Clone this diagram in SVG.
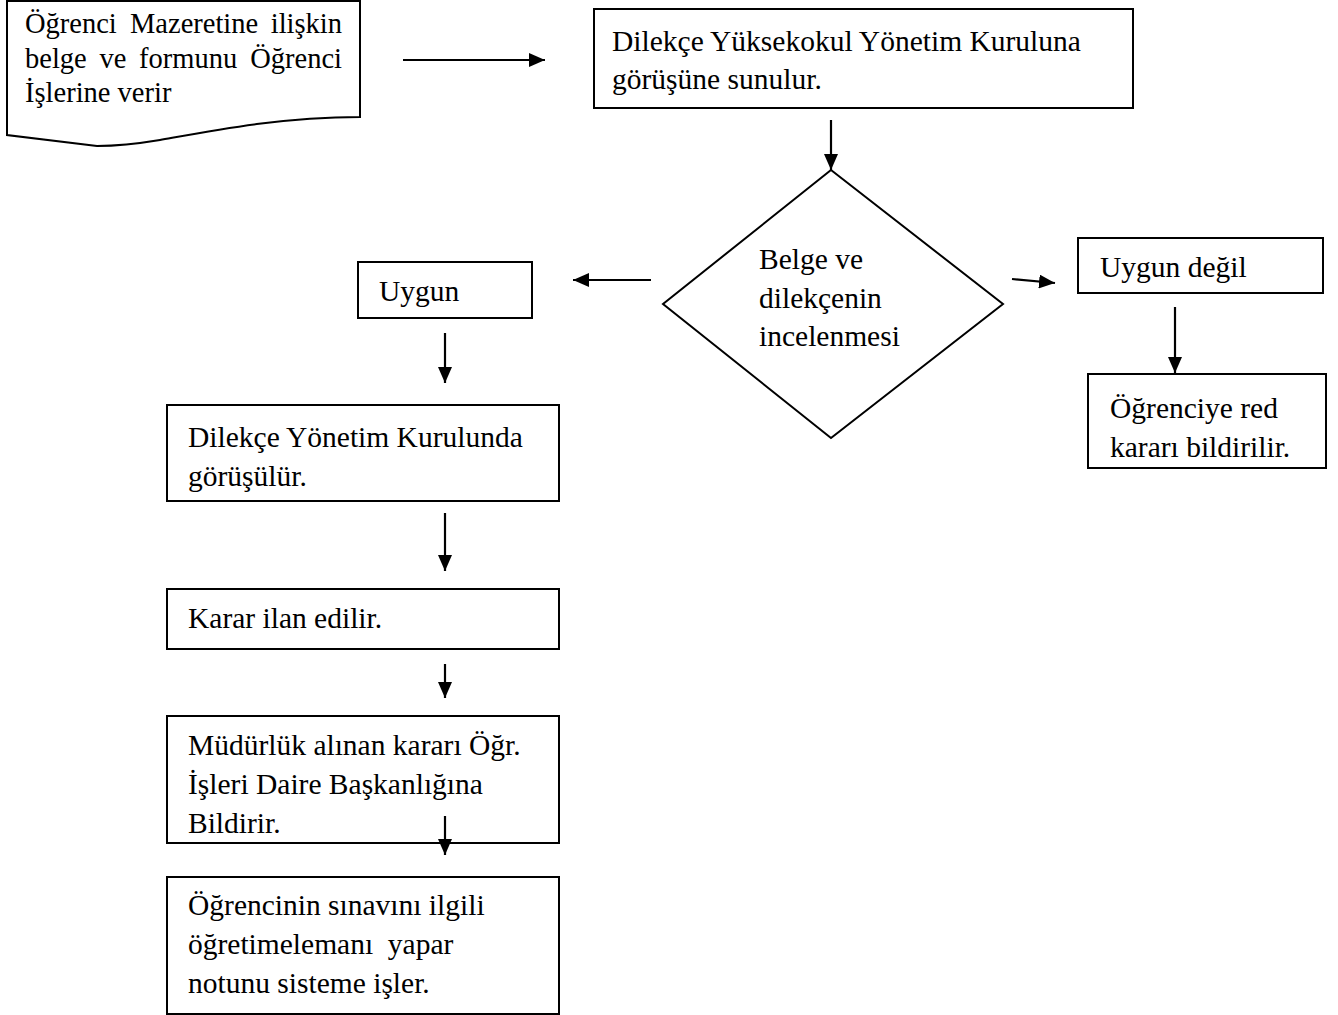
<svg xmlns="http://www.w3.org/2000/svg" width="1338" height="1015" viewBox="0 0 1338 1015">
<defs>
<marker id="ah" markerUnits="userSpaceOnUse" markerWidth="16" markerHeight="14" viewBox="0 0 16 14" refX="16" refY="7" orient="auto">
<path d="M0,0 L16,7 L0,14 z" fill="#000"/>
</marker>
<style>
.box{fill:#fff;stroke:#000;stroke-width:2}
.t{font-family:"Liberation Serif","Times New Roman",serif;font-size:29.5px;fill:#000}
.d{font-size:28.5px}
.c{stroke:#000;stroke-width:2.2;fill:none;marker-end:url(#ah)}
</style>
</defs>
<rect width="1338" height="1015" fill="#fff"/>
<g id="n1">
<path class="box" d="M7,1 L360,1 L360,117 C280,117 210,131 160,140 C130,145 115,146 97,146 L7,135 Z"/>
<text class="t d" y="33"><tspan x="25">Öğrenci</tspan><tspan x="130">Mazeretine</tspan><tspan x="342" text-anchor="end">ilişkin</tspan></text>
<text class="t d" y="68"><tspan x="25">belge</tspan><tspan x="99.5">ve</tspan><tspan x="139">formunu</tspan><tspan x="342" text-anchor="end">Öğrenci</tspan></text>
<text class="t d" y="102" x="25">İşlerine verir</text>
</g>
<g id="n2">
<rect class="box" x="594" y="9" width="539" height="99"/>
<text class="t" x="612" y="51">Dilekçe Yüksekokul Yönetim Kuruluna</text>
<text class="t" x="612" y="89">görüşüne sunulur.</text>
</g>
<g id="n3">
<path class="box" d="M831,170 L1003,304 L831,438 L663,304 Z"/>
<text class="t" x="759" y="269">Belge ve</text>
<text class="t" x="759" y="308">dilekçenin</text>
<text class="t" x="759" y="346">incelenmesi</text>
</g>
<g id="n4">
<rect class="box" x="358" y="262" width="174" height="56"/>
<text class="t" x="379" y="301">Uygun</text>
</g>
<g id="n5">
<rect class="box" x="1078" y="238" width="245" height="55"/>
<text class="t" x="1100" y="277">Uygun değil</text>
</g>
<g id="n6">
<rect class="box" x="1088" y="374" width="238" height="94"/>
<text class="t" x="1110" y="418">Öğrenciye red</text>
<text class="t" x="1110" y="457">kararı bildirilir.</text>
</g>
<g id="n7">
<rect class="box" x="167" y="405" width="392" height="96"/>
<text class="t" x="188" y="447">Dilekçe Yönetim Kurulunda</text>
<text class="t" x="188" y="486">görüşülür.</text>
</g>
<g id="n8">
<rect class="box" x="167" y="589" width="392" height="60"/>
<text class="t" x="188" y="628">Karar ilan edilir.</text>
</g>
<g id="n9">
<rect class="box" x="167" y="716" width="392" height="127"/>
<text class="t" x="188" y="755">Müdürlük alınan kararı Öğr.</text>
<text class="t" x="188" y="794">İşleri Daire Başkanlığına</text>
<text class="t" x="188" y="833">Bildirir.</text>
</g>
<g id="n10">
<rect class="box" x="167" y="877" width="392" height="137"/>
<text class="t" x="188" y="915">Öğrencinin sınavını ilgili</text>
<text class="t" x="188" y="954" xml:space="preserve" style="white-space:pre">öğretimelemanı  yapar</text>
<text class="t" x="188" y="993">notunu sisteme işler.</text>
</g>
<g id="connectors">
<line class="c" x1="403" y1="60" x2="545" y2="60"/>
<line class="c" x1="831" y1="120" x2="831" y2="170"/>
<line class="c" x1="651" y1="280" x2="573" y2="280"/>
<line class="c" x1="1012" y1="279" x2="1055" y2="283"/>
<line class="c" x1="445" y1="333" x2="445" y2="383"/>
<line class="c" x1="1175" y1="307" x2="1175" y2="373"/>
<line class="c" x1="445" y1="513" x2="445" y2="571"/>
<line class="c" x1="445" y1="664" x2="445" y2="698"/>
<line class="c" x1="445" y1="816" x2="445" y2="855"/>
</g>
</svg>
